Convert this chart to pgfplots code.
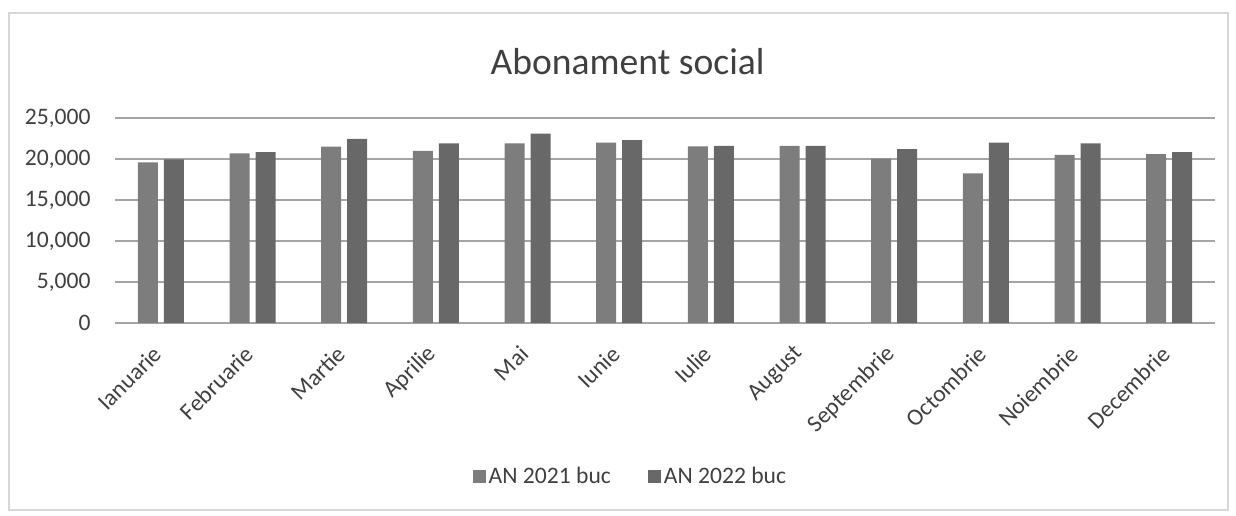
\documentclass[border=0pt]{standalone}
\usepackage{fontspec}
\setmainfont{Carlito}
\usepackage{pgfplots}
\pgfplotsset{compat=1.18}
\definecolor{sA}{RGB}{125,125,125}
\definecolor{sB}{RGB}{104,104,104}
\definecolor{txt}{RGB}{64,64,64}
\definecolor{gridc}{RGB}{165,165,165}
\definecolor{framec}{RGB}{215,215,215}
\begin{document}
\begin{tikzpicture}
\path[use as bounding box] (0,0) rectangle (618pt,257.5pt);
\draw[draw=framec, line width=0.8pt] (4.5pt,2.5pt) rectangle (614pt,251pt);
\node[font=\fontsize{18.8}{22}\selectfont, text=txt, anchor=base, inner sep=0pt] at (313.8pt,220pt) {Abonament social};
\begin{axis}[at={(57.5pt,96pt)}, anchor=south west, scale only axis,
  width=550pt, height=102.5pt,
  ybar=3pt, bar width=10pt,
  xmin=-0.5, xmax=11.5, ymin=0, ymax=25000,
  xtick={0,1,2,3,4,5,6,7,8,9,10,11},
  xticklabels={Ianuarie,Februarie,Martie,Aprilie,Mai,Iunie,Iulie,August,Septembrie,Octombrie,Noiembrie,Decembrie},
  ytick={0,5000,10000,15000,20000,25000},
  scaled y ticks=false,
  /pgf/number format/assume math mode=true,
  /pgf/number format/1000 sep={,},
  axis line style={draw=none},
  major tick length=0pt,
  ymajorgrids,
  grid style={draw=gridc, line width=0.75pt},
  yticklabel style={font=\fontsize{11.8}{14}\selectfont, text=txt, anchor=east, inner sep=0pt, xshift=-12pt},
  xticklabel style={font=\fontsize{11.8}{14}\selectfont, text=txt, inner sep=0pt, yshift=-13.5pt, xshift=-1.5pt, rotate=45, anchor=east},
  legend columns=2,
  legend style={at={(0.469,-0.751)}, anchor=center, draw=none, fill=none,
    font=\fontsize{11.8}{14}\selectfont, text=txt,
    nodes={inner sep=1.5pt},
    /tikz/every even column/.append style={column sep=17pt}},
]
\addplot[fill=sA, draw=none, legend image code/.code={\fill[sA] (-1.5pt,-3.25pt) rectangle (5pt,3.25pt);}] coordinates {
 (0,19600) (1,20700) (2,21500) (3,21000) (4,21900) (5,22000)
 (6,21550) (7,21600) (8,20050) (9,18250) (10,20500) (11,20600)};
\addplot[fill=sB, draw=none, legend image code/.code={\fill[sB] (-1.5pt,-3.25pt) rectangle (5pt,3.25pt);}] coordinates {
 (0,19950) (1,20850) (2,22450) (3,21900) (4,23100) (5,22300)
 (6,21600) (7,21600) (8,21200) (9,22000) (10,21900) (11,20850)};
\legend{AN 2021 buc, AN 2022 buc}
\end{axis}
\end{tikzpicture}
\end{document}
